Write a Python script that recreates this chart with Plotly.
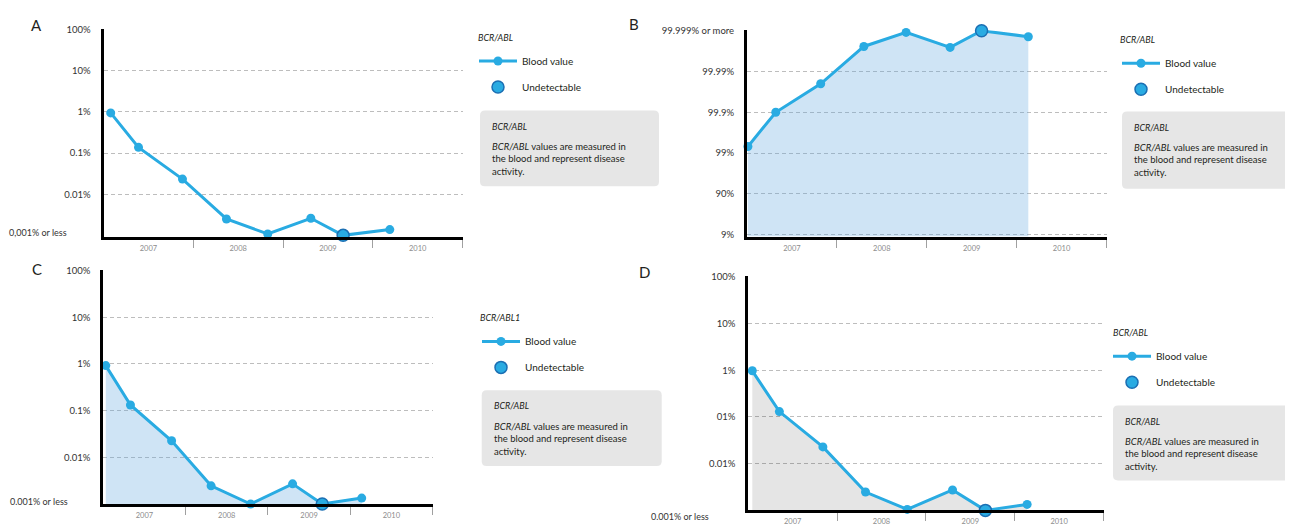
import plotly.graph_objects as go

W, H = 1293, 530
OFF = 8  # page body margin of the written html

# ---------------- data ----------------
years = [2007, 2008, 2009, 2010]
year_labels = ["2007", "2008", "2009", "2010"]

# Panel A: BCR/ABL blood values (%), log scale
a_dates = [2007.08, 2007.39, 2007.88, 2008.37, 2008.83, 2009.31, 2009.67, 2010.19]
a_values = [0.95, 0.138, 0.0233, 0.0025, 0.00108, 0.0026, 0.001, 0.00138]
a_undetectable = [6]

# Panel B: response shown as percentage reduction (99.x %)
b_dates = [2007.01, 2007.32, 2007.82, 2008.30, 2008.77, 2009.26, 2009.61, 2010.13]
b_values = [99.31, 99.9, 99.980, 99.99757, 99.9989, 99.99744, 99.999, 99.9986]
b_undetectable = [6]

# Panel C
c_dates = [2007.03, 2007.33, 2007.83, 2008.31, 2008.79, 2009.30, 2009.66, 2010.14]
c_values = [0.92, 0.132, 0.0226, 0.00245, 0.001, 0.0027, 0.001, 0.00134]
c_undetectable = [6]

# Panel D
d_dates = [2007.045, 2007.35, 2007.84, 2008.32, 2008.79, 2009.30, 2009.67, 2010.14]
d_values = [0.97, 0.13, 0.0228, 0.00247, 0.00105, 0.00273, 0.001, 0.00134]
d_undetectable = [6]

tick_vals = [100, 10, 1, 0.1, 0.01]
a_tick_text = ["100%", "10%", "1%", "0.1%", "0.01%"]
c_tick_text = ["100%", "10%", "1%", "0.1%", "0.01%"]
d_tick_text = ["100%", "10%", "1%", "01%", "0.01%"]
b_tick_vals = [0.001, 0.01, 0.1, 1, 10, 100]   # remaining (100 - response)
b_tick_text = ["99.999% or more", "99.99%", "99.9%", "99%", "90%", "9%"]
a_bottom_label = "0,001% or less"
c_bottom_label = "0.001% or less"
d_bottom_label = "0.001% or less"

legend_titles = ["BCR/ABL", "BCR/ABL", "BCR/ABL1", "BCR/ABL"]
series_name = "Blood value"
undetect_name = "Undetectable"
box_title = "BCR/ABL"
box_body = "<i>BCR/ABL</i> values are measured in<br>the blood and represent disease<br>activity."

# ---------------- style ----------------
FONT = "Lato"
BLUE = "#29abe2"
DARKBLUE = "#1b6fb3"
TEXT = "#231f20"
GRID = "#bdbdbd"
BLUE_FILL = "rgba(96,166,222,0.30)"
GRAY_FILL = "rgba(0,0,0,0.10)"


def fx(px):
    return (px - OFF) / W


def fy(py):
    return 1 - (py - OFF) / H


fig = go.Figure()

panels = [
    dict(key="", dates=a_dates, vals=a_values, und=a_undetectable,
         xd=(103.5, 462.5), yd=(235, 24.6), yr=[-3.03, 2.01],
         tv=tick_vals, tt=a_tick_text, fill=None, legend="legend",
         bottom=a_bottom_label, bl_x=69, bl_shift=3),
    dict(key="2", dates=b_dates, vals=[100 - v for v in b_values], und=b_undetectable,
         xd=(747, 1106.5), yd=(235, 25.6), yr=[2.05, -3.01],
         tv=b_tick_vals, tt=b_tick_text, fill=BLUE_FILL, legend="legend2",
         bottom=None, bl_x=None, bl_shift=0),
    dict(key="3", dates=c_dates, vals=c_values, und=c_undetectable,
         xd=(103.3, 432.5), yd=(507, 269), yr=[-3.01, 2.01],
         tv=tick_vals, tt=c_tick_text, fill=BLUE_FILL, legend="legend3",
         bottom=c_bottom_label, bl_x=70, bl_shift=3),
    dict(key="4", dates=d_dates, vals=d_values, und=d_undetectable,
         xd=(748.3, 1103.5), yd=(513, 275.3), yr=[-3.0, 2.01],
         tv=tick_vals, tt=d_tick_text, fill=GRAY_FILL, legend="legend4",
         bottom=d_bottom_label, bl_x=711, bl_shift=-6),
]

for p in panels:
    xa = "x" + p["key"]
    ya = "y" + p["key"]
    if p["fill"]:
        base = 10 ** p["yr"][0]
        fig.add_trace(go.Scatter(x=[p["dates"][0], p["dates"][-1]], y=[base, base],
                                 mode="lines", line=dict(width=0), showlegend=False,
                                 hoverinfo="skip", xaxis=xa, yaxis=ya))
        fig.add_trace(go.Scatter(x=p["dates"], y=p["vals"], mode="lines",
                                 line=dict(width=0), fill="tonexty", fillcolor=p["fill"],
                                 showlegend=False, hoverinfo="skip", xaxis=xa, yaxis=ya))
    fig.add_trace(go.Scatter(x=p["dates"], y=p["vals"], mode="lines+markers", name=series_name,
                             line=dict(color=BLUE, width=3),
                             marker=dict(color=BLUE, size=9),
                             cliponaxis=False, legend=p["legend"], legendgroup="bv" + p["key"],
                             xaxis=xa, yaxis=ya))
    fig.add_trace(go.Scatter(x=[p["dates"][i] for i in p["und"]],
                             y=[p["vals"][i] for i in p["und"]],
                             mode="markers", name=undetect_name,
                             marker=dict(color=BLUE, size=12, line=dict(color=DARKBLUE, width=1.5)),
                             cliponaxis=False, legend=p["legend"], legendgroup="ud" + p["key"],
                             xaxis=xa, yaxis=ya))

    xl = "xaxis" + p["key"]
    yl = "yaxis" + p["key"]
    fig.layout[xl] = dict(
        domain=[fx(p["xd"][0]), fx(p["xd"][1])], range=[years[0], years[-1] + 1],
        anchor=ya, showline=True, linecolor="black", linewidth=3,
        showgrid=False, zeroline=False,
        tickmode="array", tickvals=[y + 0.5 for y in years], ticktext=year_labels,
        ticks="", ticklabelstandoff=2, tickfont=dict(family=FONT, size=7.5, color="#8c8c8c"),
        minor=dict(tickmode="array", tickvals=[y + 1 for y in years], ticks="outside",
                   ticklen=8, tickwidth=1, tickcolor="#a0a0a0", showgrid=False),
        fixedrange=True,
    )
    fig.layout[yl] = dict(
        domain=[fy(p["yd"][0]), fy(p["yd"][1])], type="log", range=p["yr"],
        anchor=xa, showline=True, linecolor="black", linewidth=3,
        showgrid=True, gridcolor=GRID, griddash="4px,3px", gridwidth=1,
        zeroline=False, tickmode="array", tickvals=p["tv"], ticktext=p["tt"],
        ticks="", ticklabelstandoff=8,
        tickfont=dict(family=FONT, size=9.5, color="#333333"),
        fixedrange=True,
    )
    if p["bottom"]:
        fig.add_annotation(text=p["bottom"], xref="paper", x=fx(p["bl_x"]), xanchor="right",
                           yref=ya, y=-3, yanchor="middle", yshift=p["bl_shift"],
                           showarrow=False, font=dict(family=FONT, size=9, color="#333333"))

# panel letters
for letter, (lx, ly) in zip(["A", "B", "C", "D"], [(36, 20), (634, 19), (37, 268), (644, 271)]):
    fig.add_annotation(text=letter, xref="paper", yref="paper", x=fx(lx), y=fy(ly),
                       xanchor="center", yanchor="middle", showarrow=False,
                       font=dict(family=FONT, size=15, color=TEXT))

# legends: title position (window px) and legend top-left (window px)
legend_title_pos = [(476, 32.7), (1118, 35), (478, 317.3), (1110.7, 332.3)]
legend_pos = [(474, 42), (1117, 44.3), (477, 326.7), (1108, 341.7)]
for i, ((lx, ly), (tx, ty), title) in enumerate(zip(legend_pos, legend_title_pos, legend_titles)):
    name = "legend" if i == 0 else "legend%d" % (i + 1)
    fig.layout[name] = dict(
        x=fx(lx), y=fy(ly), xanchor="left", yanchor="top",
        font=dict(family=FONT, size=10, color=TEXT), itemwidth=38,
        bgcolor="rgba(0,0,0,0)", borderwidth=0, tracegroupgap=7,
    )
    fig.add_annotation(text="<i>%s</i>" % title, xref="paper", yref="paper",
                       x=fx(tx), y=fy(ty), xanchor="left", yanchor="middle",
                       showarrow=False, font=dict(family=FONT, size=9, color=TEXT))

# info boxes
boxes = [(480, 107, 659, 184), (1122, 108, 1305, 186.5), (481.7, 391, 661.7, 468), (1113, 406.5, 1305, 482.7)]
r = 5
for (x0, y0, x1, y1) in boxes:
    path = ("M %f,%f L %f,%f Q %f,%f %f,%f L %f,%f Q %f,%f %f,%f L %f,%f Q %f,%f %f,%f "
            "L %f,%f Q %f,%f %f,%f Z") % (
        fx(x0 + r), fy(y0), fx(x1 - r), fy(y0), fx(x1), fy(y0), fx(x1), fy(y0 + r),
        fx(x1), fy(y1 - r), fx(x1), fy(y1), fx(x1 - r), fy(y1),
        fx(x0 + r), fy(y1), fx(x0), fy(y1), fx(x0), fy(y1 - r),
        fx(x0), fy(y0 + r), fx(x0), fy(y0), fx(x0 + r), fy(y0))
    fig.add_shape(type="path", path=path, xref="paper", yref="paper",
                  fillcolor="#e6e6e6", line=dict(width=0), layer="below")
    fig.add_annotation(text="<i>%s</i>" % box_title, xref="paper", yref="paper",
                       x=fx(x0 + 10), y=fy(y0 + 16), xanchor="left", yanchor="middle",
                       showarrow=False, font=dict(family=FONT, size=9, color=TEXT), align="left")
    fig.add_annotation(text=box_body, xref="paper", yref="paper",
                       x=fx(x0 + 10), y=fy(y0 + 29), xanchor="left", yanchor="top",
                       showarrow=False, font=dict(family=FONT, size=9.5, color=TEXT), align="left")

fig.update_layout(
    width=W, height=H, margin=dict(l=0, r=0, t=0, b=0),
    paper_bgcolor="white", plot_bgcolor="white",
    font=dict(family=FONT, color=TEXT),
    showlegend=True,
)

fig.write_html("out.html", config={"displayModeBar": False})
